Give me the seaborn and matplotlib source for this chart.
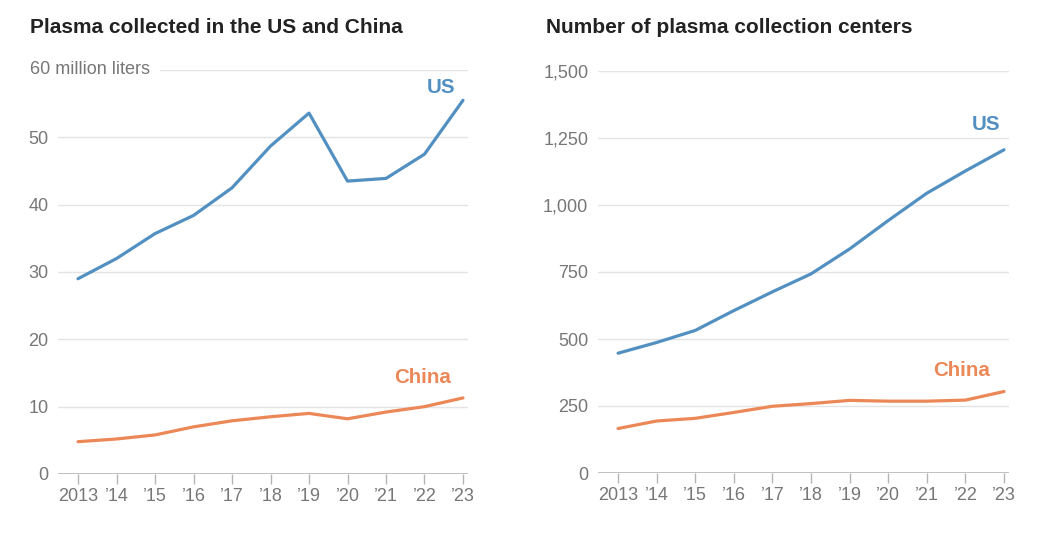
import pandas as pd
import numpy as np
import matplotlib
matplotlib.use('Agg')
import matplotlib.pyplot as plt
import seaborn as sns

years = list(range(2013, 2024))
year_labels = ['2013', '’14', '’15', '’16', '’17', '’18', '’19', '’20', '’21', '’22', '’23']

# million liters
plasma_us = [29.0, 32.0, 35.7, 38.4, 42.5, 48.7, 53.6, 43.5, 43.9, 47.5, 55.5]
plasma_china = [4.8, 5.2, 5.8, 7.0, 7.9, 8.5, 9.0, 8.2, 9.2, 10.0, 11.3]

# collection centers
centers_us = [447, 487, 532, 606, 676, 743, 836, 942, 1044, 1127, 1206]
centers_china = [166, 194, 204, 226, 249, 259, 271, 268, 268, 272, 304]

US_COLOR = '#5290c2'
CN_COLOR = '#ec8857'
TICK_COLOR = '#777777'
GRID_COLOR = '#e4e4e4'

sns.set_style('white')
plt.rcParams['font.family'] = ['Liberation Sans', 'DejaVu Sans']

df_plasma = pd.DataFrame({'year': years * 2,
                          'value': plasma_us + plasma_china,
                          'country': ['US'] * 11 + ['China'] * 11})
df_centers = pd.DataFrame({'year': years * 2,
                           'value': centers_us + centers_china,
                           'country': ['US'] * 11 + ['China'] * 11})

fig = plt.figure(figsize=(10.38, 5.38), dpi=100)
W, H = 1038, 538
ax1 = fig.add_axes([58 / W, (H - 474) / H, 410 / W, 404 / H])
ax2 = fig.add_axes([598 / W, (H - 473) / H, 411 / W, 402 / H])

palette = {'US': US_COLOR, 'China': CN_COLOR}


def style_axis(ax, ymax, yticks, ylabels):
    ax.set_xlim(2012.48, 2023.13)
    ax.set_ylim(0, ymax)
    for s in ax.spines.values():
        s.set_visible(False)
    ax.axhline(0, color='#b5b5b5', lw=1.2, zorder=1)
    for t in yticks:
        if t != 0:
            ax.axhline(t, color=GRID_COLOR, lw=1, zorder=0)
    ax.set_yticks(yticks)
    ax.set_yticklabels(ylabels)
    ax.set_xticks(years)
    ax.set_xticklabels(year_labels)
    ax.tick_params(axis='y', length=0, pad=7, labelsize=13, labelcolor=TICK_COLOR)
    ax.tick_params(axis='x', length=7, width=1, color='#b5b5b5', pad=3,
                   labelsize=13, labelcolor=TICK_COLOR, bottom=True)
    ax.set_xlabel('')
    ax.set_ylabel('')
    ax.grid(False)


sns.lineplot(data=df_plasma, x='year', y='value', hue='country', palette=palette,
             lw=2.3, ax=ax1, legend=False, zorder=3)
style_axis(ax1, 60, [0, 10, 20, 30, 40, 50], ['0', '10', '20', '30', '40', '50'])
ax1.axhline(60, xmin=(160 - 58) / 410, color=GRID_COLOR, lw=1, zorder=0)
ax1.text(30 / W, (H - 70) / H, '60 million liters', transform=fig.transFigure,
         ha='left', va='center', fontsize=13, color=TICK_COLOR)
ax1.text(2022.8, 57.4, 'US', color=US_COLOR, fontsize=14.8, fontweight='bold',
         ha='right', va='center')
ax1.text(2022.7, 14.3, 'China', color=CN_COLOR, fontsize=14.8, fontweight='bold',
         ha='right', va='center')

sns.lineplot(data=df_centers, x='year', y='value', hue='country', palette=palette,
             lw=2.3, ax=ax2, legend=False, zorder=3)
style_axis(ax2, 1500, [0, 250, 500, 750, 1000, 1250, 1500],
           ['0', '250', '500', '750', '1,000', '1,250', '1,500'])
ax2.text(2022.9, 1302, 'US', color=US_COLOR, fontsize=14.8, fontweight='bold',
         ha='right', va='center')
ax2.text(2022.65, 384, 'China', color=CN_COLOR, fontsize=14.8, fontweight='bold',
         ha='right', va='center')

fig.text(30 / W, (H - 28) / H, 'Plasma collected in the US and China', fontsize=15,
         fontweight='bold', color='#222222', ha='left', va='center')
fig.text(546 / W, (H - 28) / H, 'Number of plasma collection centers', fontsize=15,
         fontweight='bold', color='#222222', ha='left', va='center')

fig.savefig('out.png', dpi=100, facecolor='white')
